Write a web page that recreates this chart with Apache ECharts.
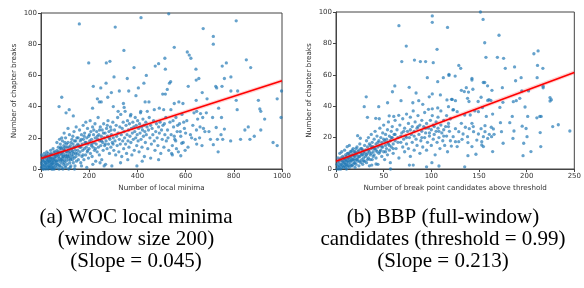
<!DOCTYPE html>
<html>
<head>
<meta charset="utf-8">
<script src="https://cdn.jsdelivr.net/npm/echarts@6/dist/echarts.min.js"></script>
<style>
  html, body { margin: 0; padding: 0; background: #fff; }
  #chart { width: 584px; height: 288px; }
</style>
</head>
<body>
<div id="chart"></div>
<script>
// (a) WOC local minima vs chapter breaks
const wocPoints = [
  [2,1],[5,3],[8,0],[10,5],[12,2],[15,7],[18,1],[20,4],[22,9],[25,3],[28,6],[30,0],[32,2],[35,8],[36,4],[38,1],[40,6],[42,10],[44,3],[45,5],
  [47,2],[48,7],[50,4],[52,9],[53,1],[55,6],[56,3],[58,11],[59,5],[60,2],[12,8],[24,11],[30,10],[40,12],[46,9],[50,13],[55,0],[33,5],[27,1],[17,4],
  [6,6],[3,9],[14,10],[20,0],[38,7],[44,0],[58,8],[49,0],[26,5],[35,2],
  [3,4],[7,2],[9,7],[11,0],[13,5],[16,3],[19,8],[21,2],[23,6],[26,8],[29,4],[31,7],[34,1],[37,5],[39,9],[41,3],[43,7],[46,1],[48,4],[51,6],
  [54,11],[57,7],[61,9],[64,5],[67,3],[70,11],[73,8],[76,2],[79,13],[82,10],[85,6],[88,11],[91,8],[94,13],[97,4],[100,14],[103,8],[106,16],[109,11],[112,8],
  [116,14],[119,10],[122,6],[125,17],[129,12],[132,8],[136,14],[139,18],[143,10],[149,20],[153,16],[161,14],[167,19],[174,9],[179,21],[187,17],[194,12],[201,22],[211,16],[219,25],
  [226,13],[234,21],[243,25],[251,18],[259,23],[267,16],[275,28],[283,20],[291,25],[299,16],
  [62,4],[63,8],[65,1],[66,12],[68,6],[70,3],[71,9],[72,14],[74,5],[75,0],[76,7],[78,11],[79,2],[80,16],[81,6],[83,4],[84,9],[85,13],[87,1],[88,7],
  [89,18],[90,5],[92,10],[93,3],[94,8],[95,15],[97,6],[98,12],[100,2],[101,9],[102,20],[104,5],[105,11],[106,7],[108,14],[109,3],[110,9],[112,17],[113,6],[114,12],
  [115,0],[117,8],[118,22],[119,4],[120,11],[122,15],[123,7],[124,2],[126,13],[127,9],[128,19],[130,6],[131,11],[133,16],[134,4],[135,10],[137,24],[138,7],[140,14],[141,2],
  [142,12],[144,18],[145,8],[147,5],[148,15],[150,10],[66,17],[86,20],[96,23],[112,26],[132,21],[146,27],[77,19],[91,0],[103,1],[121,1],[139,0],[69,10],[83,14],[99,17],
  [152,12],[154,20],[155,6],[157,15],[158,9],[160,25],[162,11],[163,18],[165,4],[166,14],[168,22],[170,8],[171,16],[173,12],[175,28],[176,19],[178,6],[180,13],[181,23],[183,17],
  [185,9],[186,30],[188,14],[190,20],[192,11],[193,26],[195,16],[197,7],[198,21],[200,13],[202,18],[204,31],[205,10],[207,24],[209,15],[210,19],[212,8],[214,27],[216,14],[218,22],
  [220,17],[222,12],[224,29],[225,20],[227,5],[229,16],[231,24],[233,11],[235,19],[237,33],[238,14],[240,22],[242,9],[244,18],[246,27],[248,15],[250,21],[252,6],[254,25],[256,17],
  [258,12],[260,29],[262,20],[264,15],[266,23],[268,3],[270,18],[272,26],[274,13],[276,21],[278,31],[280,16],[282,24],[284,10],[286,19],[288,27],[290,14],[292,22],[294,2],[296,17],
  [298,30],[300,20],[168,2],[190,1],[215,3],[245,4],[262,2],
  [302,12],[305,25],[307,18],[310,9],[312,28],[314,21],[316,15],[318,33],[320,23],[323,11],[325,19],[327,27],[329,16],[331,35],[333,22],[335,8],[337,26],[339,18],[341,30],[343,13],
  [345,24],[347,20],[349,37],[351,16],[353,28],[355,10],[357,22],[359,31],[361,18],[363,25],[365,14],[367,29],[369,21],[371,34],[373,17],[375,26],[377,9],[379,23],[381,30],[383,19],
  [385,27],[387,12],[389,24],[391,33],[393,20],[395,28],[397,15],[399,22],[401,31],[403,18],[405,26],[407,11],[409,29],[411,23],[413,36],[415,19],[417,27],[419,14],[421,25],[423,32],
  [425,21],[427,28],[429,8],[431,24],[433,17],[435,30],[437,22],[440,27],[443,13],[446,25],[449,33],[452,20],[455,28],[458,16],[461,26],[464,22],[467,31],[470,18],[473,12],[476,24],
  [479,29],[482,20],[485,15],[488,27],[491,23],[494,30],[497,10],[500,25],[503,19],[506,28],[510,14],[514,22],[518,33],[330,4],[360,6],[398,2],[420,5],[455,7],[488,6],
  [520,18],[525,25],[530,12],[535,30],[540,22],[545,15],[550,27],[555,19],[560,33],[565,24],[570,11],[575,29],[580,21],[585,35],[590,17],[595,26],[600,23],[605,31],[610,14],[620,22],
  [630,28],[640,19],[650,32],[527,20],[548,31],[562,13],[578,24],[592,30],[512,29],[598,12],
  // sparse upper and right points
  [159,93],[415,97],[308,91],[344,76],[198,68],[271,68],[286,69],[386,65],[488,67.5],[474,66],[437,60],[358,58],[303,59],[270,55],[217,53],[248,52],[292,49],[325,50],[364,50],[404,52],
  [427,55],[394,47],[432,43],[448,43],[86,46],[75,40],[104,36],[117,38],[134,34],[234,45],[242,43],[250,43],[277,46],[342,42],[214,39],[300,40],[345,39.5],[320,37],[373,35],[414,37],
  [441,37],[470,38],[491,39],
  [530,99.5],[810,95],[673,90],[715,85],[715,80],[553,78],[607,75],[615,73],[622,71],[514,71],[769,68],[752,66],[852,70],[870,65],[516,64],[643,64],[788,59],[761,58],[644,57],[655,58],
  [538,56],[533,55],[725,53],[751,53],[729,52],[611,53],[788,50],[816,50],[669,49],[524,51],[998,50],[516,48],[505,48],[902,44],[980,45],[644,44],[689,45],[810,44],[553,42],[572,43],
  [589,42],[539,38],[509,38],[737,39],[908,38.5],[912,37],[814,38],[635,36],[646,37],[662,35.5],[686,36],[712,33],[749,33],[928,32],[996,33],[671,33],[860,27],[846,25],[912,25],
  [727,26.6],[761,25.6],[660,27],[674,26],[645,25],[680,24],[697,24],[625,20],[658,20],[703,19],[732,19],[747,22],[754,19],[828,19],[867,19],[885,21],[963,17],[980,15],[787,18],
  [668,15],[646,16],[735,11],[715,15.6],[580,8.5],[542,10],[545,9],[584,16.5],[559,18],[553,21],[567,28]
];
const wocFit = [[0, 6.8], [1000, 56.5]];

// (b) BBP candidates vs chapter breaks
const bbpPoints = [
  [1,0],[2,2],[3,4],[3,1],[4,6],[5,0],[5,3],[6,5],[7,2],[7,8],[8,4],[8,1],[9,6],[10,3],[10,9],[11,5],[11,0],[12,7],[12,2],[13,10],
  [13,4],[14,6],[14,1],[15,8],[15,3],[16,11],[16,5],[17,2],[17,9],[18,6],[18,13],[19,4],[19,8],[20,1],[20,11],[21,6],[21,3],[22,9],[22,14],[23,5],
  [23,7],[24,12],[24,2],[25,8],[25,16],[26,4],[26,10],[27,6],[27,13],[28,9],[28,3],[29,11],[29,7],[30,15],[30,5],[4,10],[9,12],[2,7],[6,11],[14,15],
  [1,3],[2,5],[3,0],[4,2],[5,7],[6,1],[6,3],[7,5],[8,7],[9,2],[9,4],[10,6],[10,1],[11,8],[11,3],[12,5],[12,10],[13,7],[13,2],[14,9],
  [15,5],[15,11],[16,7],[16,2],[17,6],[17,12],[18,3],[18,9],[19,11],[19,6],[20,8],[20,4],[21,10],[21,13],[22,6],[23,11],[24,8],[25,5],[26,13],[27,9],
  [28,12],[29,5],[30,10],[32,9],[33,6],[34,12],[35,16],[36,6],[37,10],[38,14],[39,8],[40,13],[42,12],[44,17],[46,11],[48,14],[50,19],[52,11],[54,17],[56,15],
  [58,20],[60,13],[62,22],[65,17],[68,21],[71,24],[74,20],[78,25],[82,21],[86,27],[90,20],[94,26],[98,23],[103,27],[108,24],[113,21],[118,27],
  [31,8],[31,12],[32,18],[32,4],[33,10],[33,14],[34,7],[34,20],[35,11],[35,2],[36,15],[36,9],[37,13],[37,22],[38,6],[38,17],[39,11],[39,14],[40,9],[40,19],
  [41,24],[41,13],[42,7],[42,16],[43,11],[43,21],[44,14],[44,3],[45,18],[45,10],[46,26],[46,15],[47,12],[47,20],[48,8],[48,17],[49,23],[49,14],[50,11],[50,28],
  [51,18],[51,6],[52,15],[52,22],[53,13],[53,19],[54,25],[54,9],[55,16],[55,30],[56,21],[56,12],[57,18],[57,4],[58,24],[58,14],[59,20],[59,27],[60,16],[60,10],
  [61,22],[62,31],[62,18],[63,13],[64,25],[65,20],[66,7],[67,28],[68,17],[69,23],[70,14],[70,32],
  [71,19],[72,26],[72,11],[73,21],[74,35],[74,16],[75,24],[76,29],[76,13],[77,20],[78,33],[78,8],[79,22],[80,27],[80,17],[81,37],[82,24],[82,12],[83,30],[84,19],
  [85,26],[85,15],[86,34],[87,22],[88,28],[88,10],[89,18],[90,31],[90,24],[91,14],[92,27],[93,36],[93,20],[94,23],[95,29],[95,12],[96,17],[97,26],[97,38],[98,21],
  [99,31],[100,15],[100,25],[101,34],[102,19],[102,28],[103,22],[104,9],[105,30],[105,24],[106,17],[107,33],[107,26],[108,20],[109,13],[110,28],[110,37],[111,23],[112,18],[113,31],
  [113,25],[114,15],[115,27],[116,34],[116,21],[117,11],[118,29],[119,24],[120,18],[120,32],
  // sparse upper and right points
  [101,97.5],[101,93.4],[66,91.3],[117,90.2],[73.7,78.3],[106,76.2],[69,68.4],[82.3,69.4],[88.5,68.4],[94,68.4],[102,67.7],[95.8,58.2],[106.7,55.6],[112.6,58.2],[118.5,60.3],[118.5,59.6],
  [61.7,52.9],[59.2,49.2],[76.8,52],[84,48.4],[101,47.8],[97.8,46],[109.5,47.2],[116.4,44],[121.2,44.4],[31.7,46],[29.6,39.7],[44.8,39.7],[54.1,42.2],[68.2,43.5],[80.6,42.2],[86.8,43.5],
  [91,41.2],[101,38.3],[106.7,38.9],[118,39.7],[122.6,37.6],[33,32.9],[41.7,32.3],[45.4,32],[55.8,33.9],[60.6,33.5],[65.8,34.2],[22.7,21.2],[25.5,19.6],[11.7,14.2],
  [37.5,2.5],[42,3.2],[57.2,0],[77,2.5],[81,2.5],[95,1.4],[108,1.9],[100.6,4],[121,14.6],
  [151.5,100],[154.3,95.3],[171,85.2],[156,80.4],[207.6,73.4],[212,75.2],[157.3,71.1],[169.3,71.1],[175.8,70.5],[128.8,66],[130.8,64.1],[177.6,64.1],[187.3,65],[211.4,66],[217,64.1],
  [125,59.2],[142.6,57.7],[142.6,56.7],[154.5,55.1],[156,55.1],[188.4,56.2],[194.2,58.2],[211,58.2],[131.5,50.1],[134.6,49.3],[136.7,51.8],[139,49],[143.6,50.8],[159,53],[163.6,50.1],
  [174.5,51.8],[194.9,49.7],[202,49.7],[217.3,52.7],[217.3,51.7],[125.3,43.5],[121.9,44.3],[138,45],[139.5,43],[149.1,43],[152.2,45.7],[160.5,44.1],[162.5,43.7],[159.1,43.7],[175.1,42.5],
  [189.1,43.5],[192.8,45],[198.3,39.5],[224.5,45.5],[225.9,44.1],[224.5,43.3],[186,42.9],[171.9,39.2],[123.3,37.8],[127.1,36.5],[135,34.4],[140.8,34.4],[145.6,37],[149.4,36.5],[153.6,39.1],
  [157.7,33.5],[164.3,35],[172.5,29.5],[184.9,33.5],[201.1,33.5],[210.7,32.6],[213.8,33.5],[215.2,33.5],[227.3,27],[233.2,28.2],[245.3,24.2],[214.2,23.2],[186.7,24.2],[199.4,25.8],[195.3,27.3],
  [156.3,27.6],[162.9,26.6],[152.2,25.7],[142.6,29.1],[144,27],[131.5,29.1],[135.7,26.6],[139.8,25.7],[128.8,23.8],[125.3,25.7],[133.3,22.3],[138,20.6],[144.3,23.8],[149.4,22.3],[156.3,23.8],
  [160.8,22.1],[163.2,20.6],[165.8,22.1],[154.6,20.6],[159.1,19.5],[152.9,17.4],[147.7,18.4],[138.4,16.8],[132.2,18.9],[128.8,17.4],[125.3,17.4],[122.9,20.6],[127.1,14.3],[142.6,14.3],[152.9,15.3],
  [154.6,14.3],[164.3,11.1],[175.3,16.4],[196.9,16.4],[204.5,11.1],[214.8,14.3],[200.4,20.6],[138.4,8.5],[146.8,9.4],[135,1.4],[196.2,8.5],[173.6,23.8],[182.3,29.5],[185.6,19.5],[165.1,25.5]
];
const bbpFit = [[0, 5.0], [250, 61.5]];

const xTicksA = [0, 200, 400, 600, 800, 1000];
const xTicksB = [0, 50, 100, 150, 200, 250];

// a bit more room round "=" like math mode in the original caption
const eq = '\u2005=\u2005';
const captionA = ['(a) WOC local minima', '(window size 200)', '(Slope' + eq + '0.045)'];
const captionB = ['(b) BBP (full-window)', 'candidates (threshold' + eq + '0.99)', '(Slope' + eq + '0.213)'];

const tickFont = { fontFamily: 'DejaVu Sans', fontSize: 7, color: '#333' };
const nameFont = { fontFamily: 'DejaVu Sans', fontSize: 7.2, color: '#333' };

function xAxisOf(idx, ticks, name) {
  return {
    gridIndex: idx, type: 'value', name: name, nameLocation: 'middle', nameGap: 16,
    nameTextStyle: nameFont,
    min: ticks[0], max: ticks[ticks.length - 1], interval: ticks[1] - ticks[0],
    axisLine: { show: true, onZero: false, lineStyle: { color: '#444', width: 1 } },
    axisTick: { show: true, length: 3, lineStyle: { color: '#444' } },
    axisLabel: Object.assign({ margin: 4, formatter: v => String(v) }, tickFont),
    splitLine: { show: false }
  };
}
function yAxisOf(idx, name) {
  return {
    gridIndex: idx, type: 'value', name: name, nameLocation: 'middle', nameGap: 23,
    nameTextStyle: nameFont,
    min: 0, max: 100, interval: 20,
    axisLine: { show: true, onZero: false, lineStyle: { color: '#444', width: 1 } },
    axisTick: { show: true, length: 3, lineStyle: { color: '#444' } },
    axisLabel: Object.assign({ margin: 4 }, tickFont),
    splitLine: { show: false }
  };
}

const dotStyle = { color: 'rgba(31,119,180,0.85)' };

const chart = echarts.init(document.getElementById('chart'), null, { renderer: 'canvas' });
chart.setOption({
  animation: false,
  backgroundColor: '#fff',
  grid: [
    { left: 41, top: 13, width: 241, height: 156, show: true, borderColor: '#444', borderWidth: 1 },
    { left: 336, top: 12, width: 242, height: 157, show: true, borderColor: '#444', borderWidth: 1 }
  ],
  xAxis: [
    xAxisOf(0, xTicksA, 'Number of local minima'),
    xAxisOf(1, xTicksB, 'Number of break point candidates above threshold')
  ],
  yAxis: [
    yAxisOf(0, 'Number of chapter breaks'),
    yAxisOf(1, 'Number of chapter breaks')
  ],
  series: [
    { type: 'scatter', xAxisIndex: 0, yAxisIndex: 0, data: wocPoints, symbolSize: 3.3, itemStyle: dotStyle },
    { type: 'line', xAxisIndex: 0, yAxisIndex: 0, data: wocFit, symbol: 'none', lineStyle: { color: 'rgba(255,0,0,0.18)', width: 4 } },
    { type: 'line', xAxisIndex: 0, yAxisIndex: 0, data: wocFit, symbol: 'none', lineStyle: { color: '#ff0000', width: 1.6 } },
    { type: 'scatter', xAxisIndex: 1, yAxisIndex: 1, data: bbpPoints, symbolSize: 3.3, itemStyle: dotStyle },
    { type: 'line', xAxisIndex: 1, yAxisIndex: 1, data: bbpFit, symbol: 'none', lineStyle: { color: 'rgba(255,0,0,0.18)', width: 4 } },
    { type: 'line', xAxisIndex: 1, yAxisIndex: 1, data: bbpFit, symbol: 'none', lineStyle: { color: '#ff0000', width: 1.6 } }
  ],
  graphic: [
    { type: 'text', x: 136, y: 206, style: { text: captionA.join('\n'), textAlign: 'center', textVerticalAlign: 'top',
      font: '21px "Liberation Serif"', lineHeight: 22, fill: '#000' } },
    { type: 'text', x: 443, y: 206, style: { text: captionB.join('\n'), textAlign: 'center', textVerticalAlign: 'top',
      font: '21px "Liberation Serif"', lineHeight: 22, fill: '#000' } }
  ]
});
</script>
</body>
</html>
